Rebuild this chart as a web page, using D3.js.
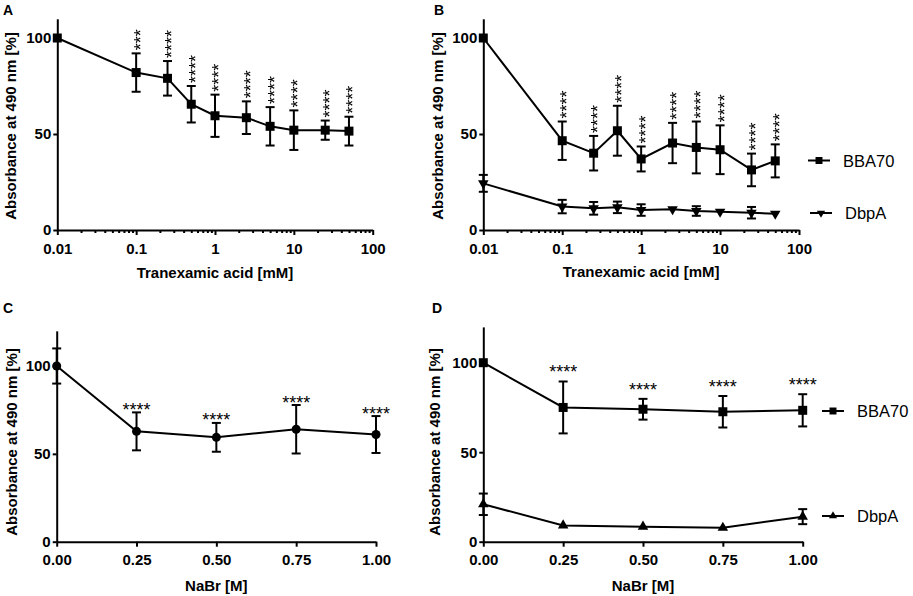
<!DOCTYPE html>
<html>
<head>
<meta charset="utf-8">
<script src="https://cdn.jsdelivr.net/npm/d3@7"></script>
<style>
    body { margin: 0; background: #fff; }
    svg { display: block; }
    text { font-family: "Liberation Sans", Arial, sans-serif; fill: #000; }
    .axis path, .axis line { stroke: #000; stroke-width: 2; }
    .axis text { font-size: 15px; font-weight: bold; }
    .title { font-size: 15px; font-weight: bold; }
    .letter { font-size: 14px; font-weight: bold; }
    .stars { font-size: 18px; }
    .vstars { filter: grayscale(100%); }
    .legend { font-size: 16.5px; }
</style>
</head>
<body>
<svg id="fig" width="913" height="596"></svg>
<script>
// tranexamic acid panels (A, B)
var tranexamicMM = [0.01, 0.1, 0.25, 0.5, 1, 2.5, 5, 10, 25, 50];
var logTicks = [0.01, 0.1, 1, 10, 100];
var logTickLabels = ['0.01', '0.1', '1', '10', '100'];

var aMean = [100, 82, 79, 65.5, 59.5, 58.5, 54, 52, 52, 51.5];
var aErr = [0, 10, 9, 9.5, 11, 8.5, 10, 10.3, 5, 7.5];
var aStars = ['', '***', '****', '****', '****', '****', '****', '****', '****', '****'];

var bBBA70Mean = [100, 46.5, 40, 51.7, 37, 45.3, 43, 41.8, 31.3, 36];
var bBBA70Err = [0, 10, 9, 13, 6.5, 10.5, 13.5, 12.7, 8.5, 8.6];
var bDbpAMean = [24.3, 12.2, 11.3, 11.8, 10.4, 10.8, 9.9, 9.5, 9, 8.5];
var bDbpAErr = [4.4, 3.5, 3.3, 3, 3, 0, 2.5, 0, 3, 0];
var bStars = ['', '****', '****', '****', '****', '****', '****', '****', '****', '****'];

// NaBr panels (C, D)
var nabrM = [0, 0.25, 0.5, 0.75, 1];
var linTicks = [0, 0.25, 0.5, 0.75, 1];

var cMean = [100, 62.8, 59.4, 64, 61];
var cErr = [10, 10.8, 8.2, 13.8, 10.5];
var cStars = ['', '****', '****', '****', '****'];

var dBBA70Mean = [100, 75, 74, 72.6, 73.4];
var dBBA70Err = [0, 14.5, 5.8, 8.8, 9];
var dDbpAMean = [20.9, 9.1, 8.4, 7.8, 14];
var dDbpAErr = [6, 0, 0, 0, 4.2];
var dStars = ['', '****', '****', '****', '****'];

var yTicks = [0, 50, 100];
var yTitle = 'Absorbance at 490 nm [%]';

(function () {
    var svg = d3.select('#fig');

    function zip(xs, m, e) {
        return xs.map(function (x, i) { return { x: x, y: m[i], e: e[i] }; });
    }

    function marker(kind, size) {
        if (kind === 'circle') return d3.symbol().type(d3.symbolCircle).size(size)();
        if (kind === 'square') return d3.symbol().type(d3.symbolSquare).size(size)();
        return d3.symbol().type(d3.symbolTriangle).size(size)();
    }

    function drawPanel(p) {
        var g = svg.append('g');
        var x = p.x, y = p.y;

        // x axis
        var xAxis = d3.axisBottom(x).tickValues(p.xTicks).tickSize(5).tickSizeOuter(0).tickPadding(8)
            .tickFormat(p.xFormat);
        g.append('g').attr('class', 'axis')
            .attr('transform', 'translate(0,' + y(0) + ')')
            .call(xAxis);
        if (p.log) {
            var minor = x.ticks().filter(function (t) { return p.xTicks.indexOf(t) < 0; });
            var minorAxis = d3.axisBottom(x).tickValues(minor).tickSize(3).tickSizeOuter(0).tickFormat('');
            g.append('g').attr('class', 'axis')
                .attr('transform', 'translate(0,' + y(0) + ')')
                .call(minorAxis)
                .select('.domain').remove();
        }

        // y axis
        g.append('g').attr('class', 'axis')
            .attr('transform', 'translate(' + x.range()[0] + ',0)')
            .call(d3.axisLeft(y).tickValues(yTicks).tickSize(4).tickSizeOuter(0).tickPadding(2));

        g.append('text').attr('class', 'title')
            .attr('text-anchor', 'middle')
            .attr('x', (x.range()[0] + x.range()[1]) / 2)
            .attr('y', p.xTitleY)
            .text(p.xTitle);

        g.append('text').attr('class', 'title')
            .attr('text-anchor', 'middle')
            .attr('transform', 'translate(' + p.yTitleX + ',' + p.yTitleMid + ') rotate(-90)')
            .text(yTitle);

        g.append('text').attr('class', 'letter')
            .attr('x', p.letterX).attr('y', p.letterY)
            .text(p.letter);

        p.series.forEach(function (s) {
            var pts = zip(p.xs, s.mean, s.err);
            var line = d3.line().x(function (d) { return x(d.x); }).y(function (d) { return y(d.y); });
            g.append('path').datum(pts)
                .attr('d', line)
                .attr('fill', 'none').attr('stroke', '#000').attr('stroke-width', 2);

            var eb = g.selectAll(null).data(pts.filter(function (d) { return d.e > 0; }))
                .enter().append('g').attr('stroke', '#000').attr('stroke-width', 2);
            eb.append('line')
                .attr('x1', function (d) { return x(d.x); }).attr('x2', function (d) { return x(d.x); })
                .attr('y1', function (d) { return y(d.y - d.e); }).attr('y2', function (d) { return y(d.y + d.e); });
            [1, -1].forEach(function (sgn) {
                eb.append('line')
                    .attr('x1', function (d) { return x(d.x) - 4.5; }).attr('x2', function (d) { return x(d.x) + 4.5; })
                    .attr('y1', function (d) { return y(d.y + sgn * d.e); }).attr('y2', function (d) { return y(d.y + sgn * d.e); });
            });

            g.selectAll(null).data(pts).enter().append('path')
                .attr('d', marker(s.shape, s.size))
                .attr('transform', function (d) {
                    return 'translate(' + x(d.x) + ',' + y(d.y) + ')' + (s.flip ? ' rotate(180)' : '');
                })
                .attr('fill', '#000');

            if (s.stars) {
                var sp = pts.map(function (d, i) { return { d: d, t: s.stars[i] }; })
                    .filter(function (o) { return o.t; });
                if (p.vertStars) {
                    g.append('g').attr('class', 'vstars')
                        .selectAll(null).data(sp).enter().append('text')
                        .attr('class', 'stars')
                        .attr('dy', '0.58em')
                        .attr('transform', function (o) {
                            return 'translate(' + x(o.d.x) + ',' + (y(o.d.y + o.d.e) - 3) + ') rotate(-90)';
                        })
                        .text(function (o) { return o.t; });
                } else {
                    g.selectAll(null).data(sp).enter().append('text')
                        .attr('class', 'stars')
                        .attr('text-anchor', 'middle')
                        .attr('x', function (o) { return x(o.d.x); })
                        .attr('y', function (o) { return y(o.d.y + o.d.e) + p.starDy; })
                        .text(function (o) { return o.t; });
                }
            }

            if (s.legend) {
                var lg = g.append('g').attr('transform', 'translate(' + s.legend[0] + ',' + s.legend[1] + ')');
                lg.append('line').attr('x1', -11).attr('x2', 11)
                    .attr('stroke', '#000').attr('stroke-width', 2);
                lg.append('path').attr('d', marker(s.shape, s.size * 0.6))
                    .attr('transform', s.flip ? 'rotate(180)' : null)
                    .attr('fill', '#000');
                lg.append('text').attr('class', 'legend')
                    .attr('x', 24).attr('y', 6)
                    .text(s.name);
            }
        });
    }

    var yTop = d3.scaleLinear().domain([0, 110]).range([230, 230 - 110 * 1.92]);

    drawPanel({
        letter: 'A', letterX: 3, letterY: 15,
        x: d3.scaleLog().domain([0.01, 100]).range([57.3, 372.7]),
        y: yTop, log: true, xs: tranexamicMM,
        xTicks: logTicks, xFormat: function (d, i) { return logTickLabels[i]; },
        xTitle: 'Tranexamic acid [mM]', xTitleY: 278,
        yTitleX: 16, yTitleMid: 126, vertStars: true,
        series: [{ name: 'BBA70', mean: aMean, err: aErr, shape: 'square', size: 81, stars: aStars }]
    });

    drawPanel({
        letter: 'B', letterX: 434, letterY: 15,
        x: d3.scaleLog().domain([0.01, 100]).range([483.3, 799]),
        y: yTop, log: true, xs: tranexamicMM,
        xTicks: logTicks, xFormat: function (d, i) { return logTickLabels[i]; },
        xTitle: 'Tranexamic acid [mM]', xTitleY: 277,
        yTitleX: 443, yTitleMid: 126, vertStars: true,
        series: [
            { name: 'BBA70', mean: bBBA70Mean, err: bBBA70Err, shape: 'square', size: 81, stars: bStars, legend: [819, 160.5] },
            { name: 'DbpA', mean: bDbpAMean, err: bDbpAErr, shape: 'triangle', size: 48, flip: true, legend: [821, 213] }
        ]
    });

    drawPanel({
        letter: 'C', letterX: 3, letterY: 313,
        x: d3.scaleLinear().domain([0, 1]).range([56.7, 376]),
        y: d3.scaleLinear().domain([0, 120]).range([541.7, 541.7 - 120 * 1.757]),
        xs: nabrM, xTicks: linTicks, xFormat: d3.format('.2f'),
        xTitle: 'NaBr [M]', xTitleY: 591,
        yTitleX: 17, yTitleMid: 442, starDy: 3.5,
        series: [{ name: 'BBA70', mean: cMean, err: cErr, shape: 'circle', size: 64, stars: cStars }]
    });

    drawPanel({
        letter: 'D', letterX: 432, letterY: 313,
        x: d3.scaleLinear().domain([0, 1]).range([483.3, 802.7]),
        y: d3.scaleLinear().domain([0, 120]).range([541.7, 541.7 - 120 * 1.79]),
        xs: nabrM, xTicks: linTicks, xFormat: d3.format('.2f'),
        xTitle: 'NaBr [M]', xTitleY: 591,
        yTitleX: 440, yTitleMid: 442, starDy: -3,
        series: [
            { name: 'BBA70', mean: dBBA70Mean, err: dBBA70Err, shape: 'square', size: 81, stars: dStars, legend: [833, 411] },
            { name: 'DbpA', mean: dDbpAMean, err: dDbpAErr, shape: 'triangle', size: 48, legend: [833, 516] }
        ]
    });
})();
</script>
</body>
</html>
